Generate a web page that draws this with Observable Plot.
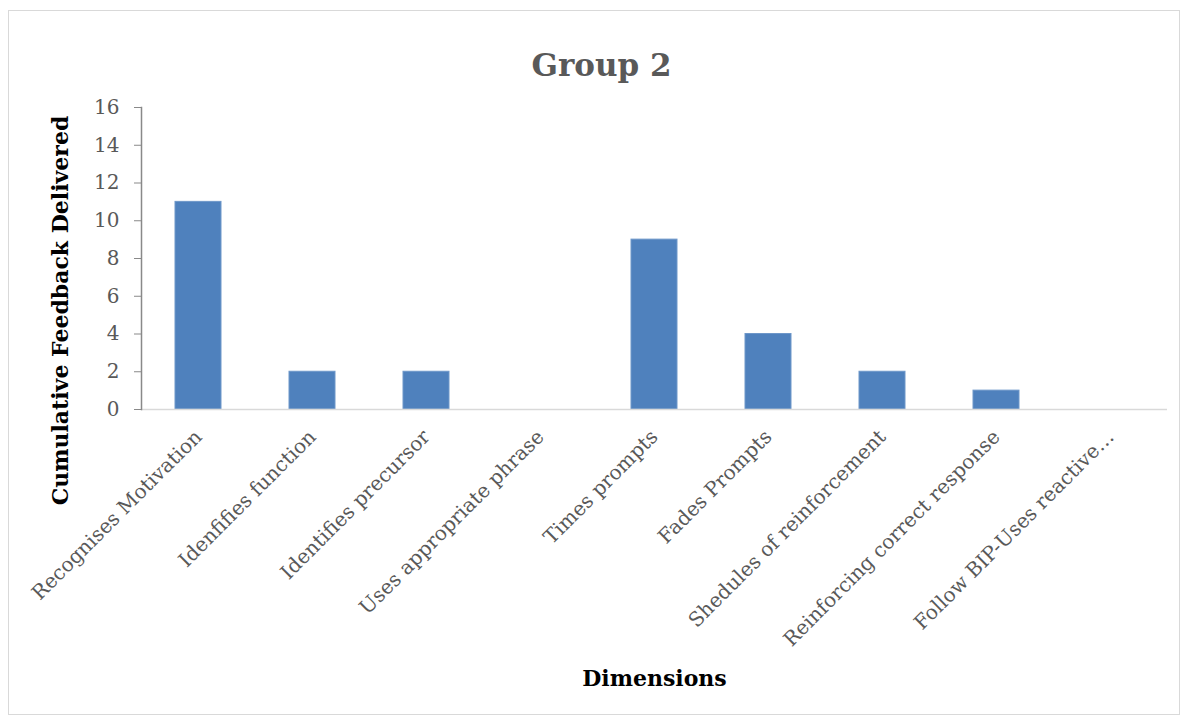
<!DOCTYPE html>
<html>
<head>
<meta charset="utf-8">
<script src="https://cdn.jsdelivr.net/npm/d3@7"></script>
<script src="https://cdn.jsdelivr.net/npm/@observablehq/plot@0.6"></script>
<style>
  html, body { margin: 0; padding: 0; background: #fff; }
  #wrap { position: relative; width: 1189px; height: 724px; }
  #border { position: absolute; left: 8px; top: 10px; width: 1172px; height: 705px; border: 1px solid #d9d9d9; box-sizing: border-box; }
  #chart { position: absolute; left: 0; top: 0; }
</style>
</head>
<body>
<div id="wrap"><div id="border"></div><div id="chart"></div></div>
<script>
const categories = [
  "Recognises Motivation",
  "Idenfifies function",
  "Identifies precursor",
  "Uses appropriate phrase",
  "Times prompts",
  "Fades Prompts",
  "Shedules of reinforcement",
  "Reinforcing correct response",
  "Follow BIP-Uses reactive\u2026"
];
const values = [11, 2, 2, 0, 9, 4, 2, 1, 0];
const yTicks = [0, 2, 4, 6, 8, 10, 12, 14, 16];
const title = "Group 2";
const yTitle = "Cumulative Feedback Delivered";
const xTitle = "Dimensions";

const data = categories.map((c, i) => ({category: c, value: values[i]}));
const serif = "'DejaVu Serif', 'Liberation Serif', serif";

const chart = Plot.plot({
  width: 1189,
  height: 724,
  marginLeft: 141,
  marginRight: 22,
  marginTop: 107,
  marginBottom: 315,
  style: {fontFamily: serif, background: "transparent", overflow: "visible"},
  x: {domain: categories, paddingInner: 0.6, paddingOuter: 0.3, label: null},
  y: {domain: [0, 16], label: null},
  marks: [
    Plot.barY(data, {x: "category", y: "value", fill: "#4f81bd", stroke: "#6e97c9", strokeWidth: 1}),
    Plot.ruleY([0], {stroke: "#d9d9d9", strokeWidth: 1.5}),
    Plot.frame({anchor: "left", stroke: "#898989", strokeWidth: 1.5}),
    Plot.axisY({ticks: yTicks, tickSize: 7, tickPadding: 15, fontSize: 20, color: "#595959", stroke: "#898989", label: null}),
    Plot.axisX({tickSize: 0, tickPadding: 24, tickRotate: -45, fontSize: 20, color: "#595959", label: null}),
    Plot.text([title], {frameAnchor: "top", text: d => d, dx: -53, dy: -54, fontSize: 31, fontWeight: "bold", fill: "#595959"}),
    Plot.text([yTitle], {frameAnchor: "left", textAnchor: "middle", text: d => d, dx: -81, dy: 52, rotate: -90, fontSize: 22, fontWeight: "bold", fill: "#000"}),
    Plot.text([xTitle], {frameAnchor: "bottom", text: d => d, dx: 0, dy: 276, fontSize: 22, fontWeight: "bold", fill: "#000"})
  ]
});
document.getElementById("chart").appendChild(chart);
</script>
</body>
</html>
